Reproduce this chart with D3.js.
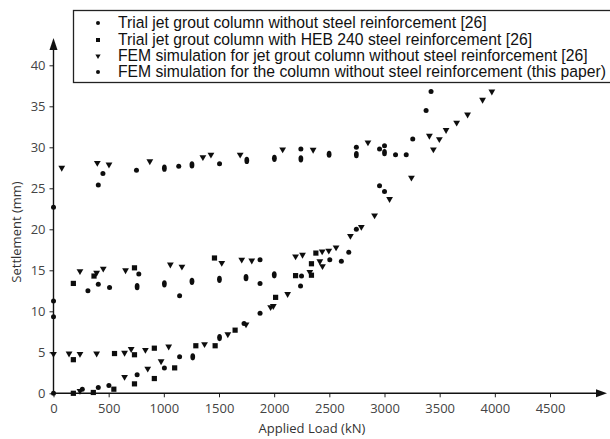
<!DOCTYPE html>
<html>
<head>
<meta charset="utf-8">
<script src="https://cdn.jsdelivr.net/npm/d3@7"></script>
<style>
  body { margin: 0; background: #fff; }
  svg { display: block; }
  .tick text { font-family: "Open Sans", "Noto Sans", sans-serif; font-size: 13px; fill: #444; }
  .legend text { font-family: "Liberation Sans", Arial, sans-serif; fill: #111; }
</style>
</head>
<body>
<div id="chart"></div>
<script>
// trial jet grout column without steel reinforcement [26] (dots)
const trialPlainLoad = [0, 261, 406, 502, 758, 1005, 1143, 1727, 1872, 2239, 2248, 2504, 2609, 2676, 2745, 2955, 3000,
    0, 0, 312, 406, 508, 773, 1143, 1872, 1872,
    0, 406, 448, 752, 1135, 1505, 2242, 2745, 2955, 3000, 3100, 3197, 3256, 3377, 3422];
const trialPlainSettle = [0, 0.5, 0.7, 0.95, 2.25, 3.1, 4.45, 8.5, 9.75, 13.1, 14.3, 16.3, 16.1, 17.2, 20.0, 25.3, 24.6,
    11.25, 9.35, 12.5, 13.3, 12.9, 14.55, 11.9, 13.4, 16.3,
    22.7, 25.4, 26.8, 27.2, 27.7, 28.0, 29.8, 30.0, 29.8, 30.2, 29.1, 29.1, 31.0, 34.5, 36.8];

// trial jet grout column with HEB 240 steel reinforcement [26] (squares)
const trialHebLoad = [180, 361, 547, 734, 914, 1098, 1290, 1465, 1646, 2013, 2194, 2338, 2338, 2378,
    180, 553, 734, 914,
    180, 367, 734, 1459];
const trialHebSettle = [0, 0.1, 0.5, 1.15, 1.8, 3.1, 5.8, 5.8, 7.7, 11.7, 14.35, 15.8, 14.4, 17.1,
    4.1, 4.85, 4.7, 5.5,
    13.4, 14.3, 15.3, 16.5];

// FEM simulation for jet grout column without steel reinforcement [26] (triangles)
const femRefLoad = [75, 397, 503, 873, 1354, 1427, 1692, 2077, 2353, 2850, 3244, 3407, 3443, 3497, 3558, 3654, 3753, 3889, 3973,
    240, 391, 451, 653, 1059, 1164, 1525, 1706, 1797, 2194, 2257, 2323, 2414, 2438, 2435, 2495, 2561,
    0, 141, 240, 391, 644, 704, 833, 1044, 1369, 1580, 1745, 1968, 1992, 2122, 2691, 2790, 2910, 3046,
    240, 644, 854, 975];
const femRefSettle = [27.5, 28.1, 27.9, 28.3, 28.8, 29.1, 29.1, 29.75, 29.7, 30.6, 26.3, 31.4, 29.75, 31.0, 32.1, 33.0, 34.0, 35.8, 36.8,
    14.9, 14.7, 15.2, 15.0, 15.7, 15.45, 15.9, 16.3, 16.2, 16.7, 16.9, 14.8, 16.1, 15.5, 17.3, 17.4, 17.8,
    4.8, 4.85, 4.8, 4.85, 4.95, 5.4, 5.3, 5.7, 6.0, 7.2, 8.4, 10.5, 10.65, 12.1, 19.2, 20.3, 21.7, 23.7,
    0.3, 2.0, 3.0, 3.9];

// FEM simulation for the column without steel reinforcement (this paper)
const femPaperLoad = [1262, 1505, 758, 1005, 1255, 1504, 1745, 2001, 1005, 1255, 1752, 2002, 2242, 2498, 2745, 3000];
const femPaperSettle = [4.45, 6.8, 13.0, 13.35, 13.65, 13.9, 14.1, 14.45, 27.45, 27.85, 28.4, 28.65, 28.6, 29.15, 29.1, 29.35];

const xTicks = [0, 500, 1000, 1500, 2000, 2500, 3000, 3500, 4000, 4500];
const yTicks = [0, 5, 10, 15, 20, 25, 30, 35, 40];
const legendLabels = [
    "Trial jet grout column without steel reinforcement [26]",
    "Trial jet grout column with HEB 240 steel reinforcement [26]",
    "FEM simulation for jet grout column without steel reinforcement [26]",
    "FEM simulation for the column without steel reinforcement (this paper)"
];

const W = 610, H = 439;
const svg = d3.select("#chart").append("svg").attr("width", W).attr("height", H);

const x = d3.scaleLinear().domain([0, 4500]).range([53.5, 550]);
const y = d3.scaleLinear().domain([0, 40]).range([393.3, 65.3]);

// soft edge like the scanned figure
svg.append("defs").append("filter").attr("id", "soft")
    .append("feGaussianBlur").attr("stdDeviation", 0.35);

// axes
const xAxis = svg.append("g").attr("transform", `translate(0,${y(0)})`)
    .call(d3.axisBottom(x).tickValues(xTicks).tickFormat(d3.format("d"))
        .tickSize(4).tickPadding(6).tickSizeOuter(0));
const yAxis = svg.append("g").attr("transform", `translate(${x(0)},0)`)
    .call(d3.axisLeft(y).tickValues(yTicks).tickSize(4).tickPadding(4).tickSizeOuter(0));
[xAxis, yAxis].forEach(g => {
    g.select(".domain").remove();
    g.selectAll(".tick line").attr("stroke", "#222");
});

// axis lines with arrow heads
svg.append("line").attr("x1", x(0)).attr("x2", 600).attr("y1", y(0)).attr("y2", y(0))
    .attr("stroke", "#111").attr("stroke-width", 1.4);
svg.append("path").attr("d", `M607,${y(0)} L596,${y(0) - 4} L596,${y(0) + 4} Z`).attr("fill", "#111");
svg.append("line").attr("x1", x(0)).attr("x2", x(0)).attr("y1", y(0)).attr("y2", 46)
    .attr("stroke", "#111").attr("stroke-width", 1.4);
svg.append("path").attr("d", `M${x(0)},38 L${x(0) - 4},50 L${x(0) + 4},50 Z`).attr("fill", "#111");

// axis titles
svg.append("text").attr("x", 312).attr("y", 433).attr("text-anchor", "middle")
    .style("font-family", "'Open Sans', 'Noto Sans', sans-serif").style("font-size", "13px").style("fill", "#333")
    .text("Applied Load (kN)");
svg.append("text").attr("transform", "translate(16,232) rotate(-90)").attr("text-anchor", "middle")
    .attr("dy", "0.35em")
    .style("font-family", "'Open Sans', 'Noto Sans', sans-serif").style("font-size", "13px").style("fill", "#333")
    .text("Settlement (mm)");

// markers
const marks = svg.append("g").attr("filter", "url(#soft)").attr("fill", "#111");

const tri = d3.symbol().type(d3.symbolTriangle).size(20);

function pairs(xs, ys) { return xs.map((v, i) => [v, ys[i]]); }

marks.selectAll(".s1").data(pairs(trialPlainLoad, trialPlainSettle)).enter().append("circle")
    .attr("class", "s1").attr("cx", d => x(d[0])).attr("cy", d => y(d[1])).attr("r", 2.5);

marks.selectAll(".s2").data(pairs(trialHebLoad, trialHebSettle)).enter().append("rect")
    .attr("class", "s2").attr("x", d => x(d[0]) - 2.6).attr("y", d => y(d[1]) - 2.6)
    .attr("width", 5.2).attr("height", 5.2);

marks.selectAll(".s3").data(pairs(femRefLoad, femRefSettle)).enter().append("path")
    .attr("class", "s3").attr("d", tri)
    .attr("transform", d => `translate(${x(d[0])},${y(d[1])}) rotate(180)`);

marks.selectAll(".s4").data(pairs(femPaperLoad, femPaperSettle)).enter().append("ellipse")
    .attr("class", "s4").attr("cx", d => x(d[0])).attr("cy", d => y(d[1])).attr("rx", 2.4).attr("ry", 3.6);

// legend
const legend = svg.append("g").attr("class", "legend");
legend.append("rect").attr("x", 73.5).attr("y", 10.5).attr("width", 545).attr("height", 72)
    .attr("fill", "#fff").attr("stroke", "#222").attr("stroke-width", 1.3);
const rowY = [23, 40, 56, 72];
const lt = legend.selectAll(".lt").data(legendLabels).enter().append("text")
    .attr("class", "lt").attr("x", 118).attr("y", (d, i) => rowY[i]).attr("dy", "0.35em")
    .style("font-size", "14px").text(d => d);
// fit the longest line to the box width
const w4 = lt.nodes()[3].getComputedTextLength();
lt.style("font-size", (14 * 488 / w4).toFixed(2) + "px");

const lm = legend.append("g").attr("filter", "url(#soft)").attr("fill", "#111");
lm.append("circle").attr("cx", 98).attr("cy", rowY[0]).attr("r", 2);
lm.append("rect").attr("x", 96).attr("y", rowY[1] - 2).attr("width", 4).attr("height", 4);
lm.append("path").attr("d", d3.symbol().type(d3.symbolTriangle).size(12))
    .attr("transform", `translate(98,${rowY[2]}) rotate(180)`);
lm.append("circle").attr("cx", 98).attr("cy", rowY[3]).attr("r", 2);
</script>
</body>
</html>
